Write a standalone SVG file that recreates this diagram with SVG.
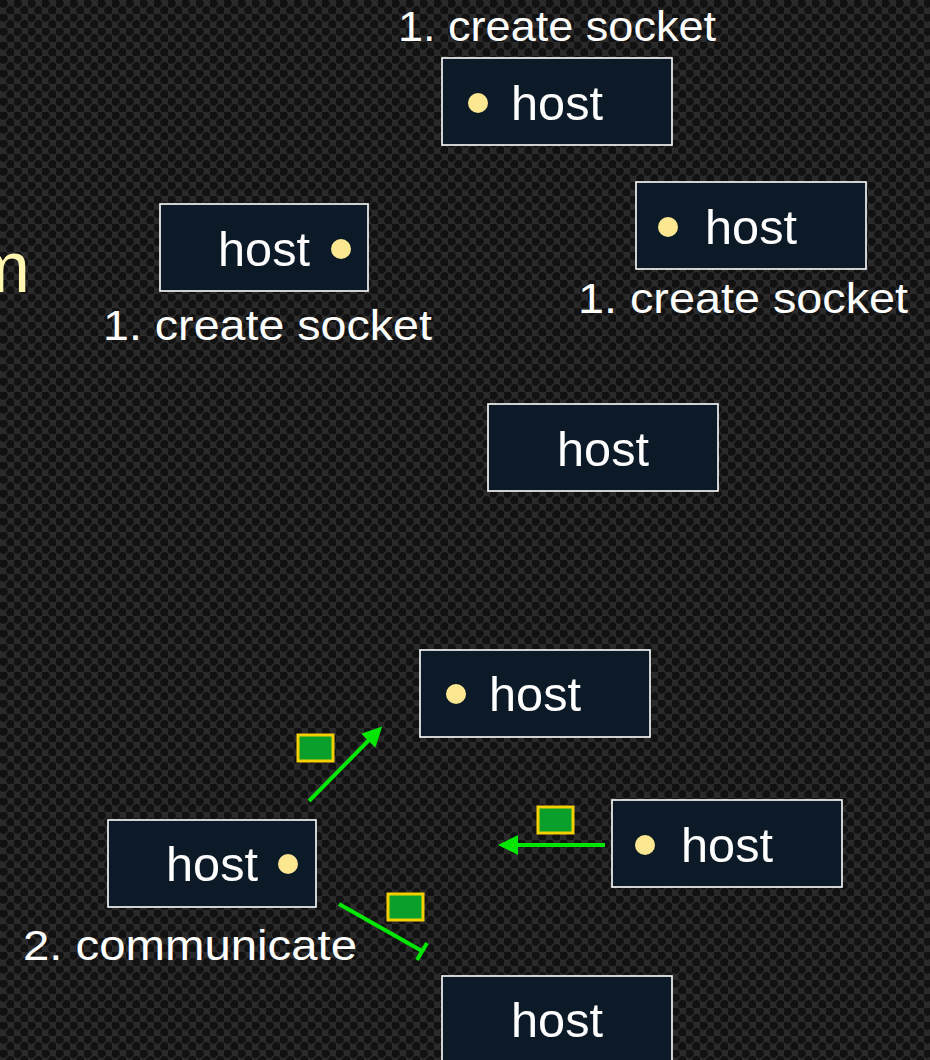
<svg xmlns="http://www.w3.org/2000/svg" width="930" height="1060" viewBox="0 0 930 1060">
<defs>
<pattern id="bg" width="14" height="14" patternUnits="userSpaceOnUse">
<rect width="14" height="14" fill="#2a2a2a"/>
<circle cx="3.5" cy="3.5" r="4.4" fill="#111"/>
<circle cx="10.5" cy="10.5" r="4.4" fill="#111"/>
</pattern>
<marker id="ah" markerWidth="5" markerHeight="5" refX="1" refY="2.5" orient="auto" markerUnits="strokeWidth">
<path d="M0,0 L5,2.5 L0,5 z" fill="#00e600"/>
</marker>
<style>
.box{fill:#0c1a28;stroke:#fff;stroke-width:1.6}
.ht{font-family:"Liberation Sans",Arial,sans-serif;font-size:48px;fill:#fff}
.lb{font-family:"Liberation Sans",Arial,sans-serif;font-size:43px;fill:#fff}
.dot{fill:#fde891}
.pk{fill:#0a9f2a;stroke:#f5d000;stroke-width:3}
.cn{stroke:#00e600;stroke-width:4;fill:none}
</style>
</defs>
<rect width="930" height="1060" fill="url(#bg)"/>
<text x="-30" y="292" font-family="Liberation Sans, Arial, sans-serif" font-size="72" fill="#fff6b0">m</text>

<g id="label-top"><text class="lb" x="398" y="41" textLength="318" lengthAdjust="spacingAndGlyphs">1. create socket</text></g>
<g id="host1"><rect class="box" x="442" y="58" width="230" height="87"/><circle class="dot" cx="478" cy="103" r="10"/><text class="ht" x="511" y="120" textLength="92" lengthAdjust="spacingAndGlyphs">host</text></g>
<g id="host2"><rect class="box" x="160" y="204" width="208" height="87"/><circle class="dot" cx="341" cy="249" r="10"/><text class="ht" x="218" y="266" textLength="92" lengthAdjust="spacingAndGlyphs">host</text></g>
<g id="label-h2"><text class="lb" x="103" y="340" textLength="329" lengthAdjust="spacingAndGlyphs">1. create socket</text></g>
<g id="host3"><rect class="box" x="636" y="182" width="230" height="87"/><circle class="dot" cx="668" cy="227" r="10"/><text class="ht" x="705" y="244" textLength="92" lengthAdjust="spacingAndGlyphs">host</text></g>
<g id="label-h3"><text class="lb" x="578" y="313" textLength="330" lengthAdjust="spacingAndGlyphs">1. create socket</text></g>
<g id="host4"><rect class="box" x="488" y="404" width="230" height="87"/><text class="ht" x="557" y="466" textLength="92" lengthAdjust="spacingAndGlyphs">host</text></g>
<g id="host5"><rect class="box" x="420" y="650" width="230" height="87"/><circle class="dot" cx="456" cy="694" r="10"/><text class="ht" x="489" y="711" textLength="92" lengthAdjust="spacingAndGlyphs">host</text></g>
<g id="host6"><rect class="box" x="612" y="800" width="230" height="87"/><circle class="dot" cx="645" cy="845" r="10"/><text class="ht" x="681" y="862" textLength="92" lengthAdjust="spacingAndGlyphs">host</text></g>
<g id="host7"><rect class="box" x="108" y="820" width="208" height="87"/><circle class="dot" cx="288" cy="864" r="10"/><text class="ht" x="166" y="881" textLength="92" lengthAdjust="spacingAndGlyphs">host</text></g>
<g id="label-h7"><text class="lb" x="23" y="960" textLength="334" lengthAdjust="spacingAndGlyphs">2. communicate</text></g>
<g id="host8"><rect class="box" x="442" y="976" width="230" height="100"/><text class="ht" x="511" y="1037" textLength="92" lengthAdjust="spacingAndGlyphs">host</text></g>

<g id="connectors">
<line class="cn" x1="309" y1="801" x2="371" y2="738" marker-end="url(#ah)"/>
<line class="cn" x1="605" y1="845" x2="514" y2="845" marker-end="url(#ah)"/>
<line class="cn" x1="339" y1="904" x2="422" y2="951"/>
<line class="cn" x1="417" y1="960" x2="427" y2="943"/>
</g>
<g id="packets">
<rect class="pk" x="298" y="735" width="35" height="26"/>
<rect class="pk" x="538" y="807" width="35" height="26"/>
<rect class="pk" x="388" y="894" width="35" height="26"/>
</g>
</svg>
